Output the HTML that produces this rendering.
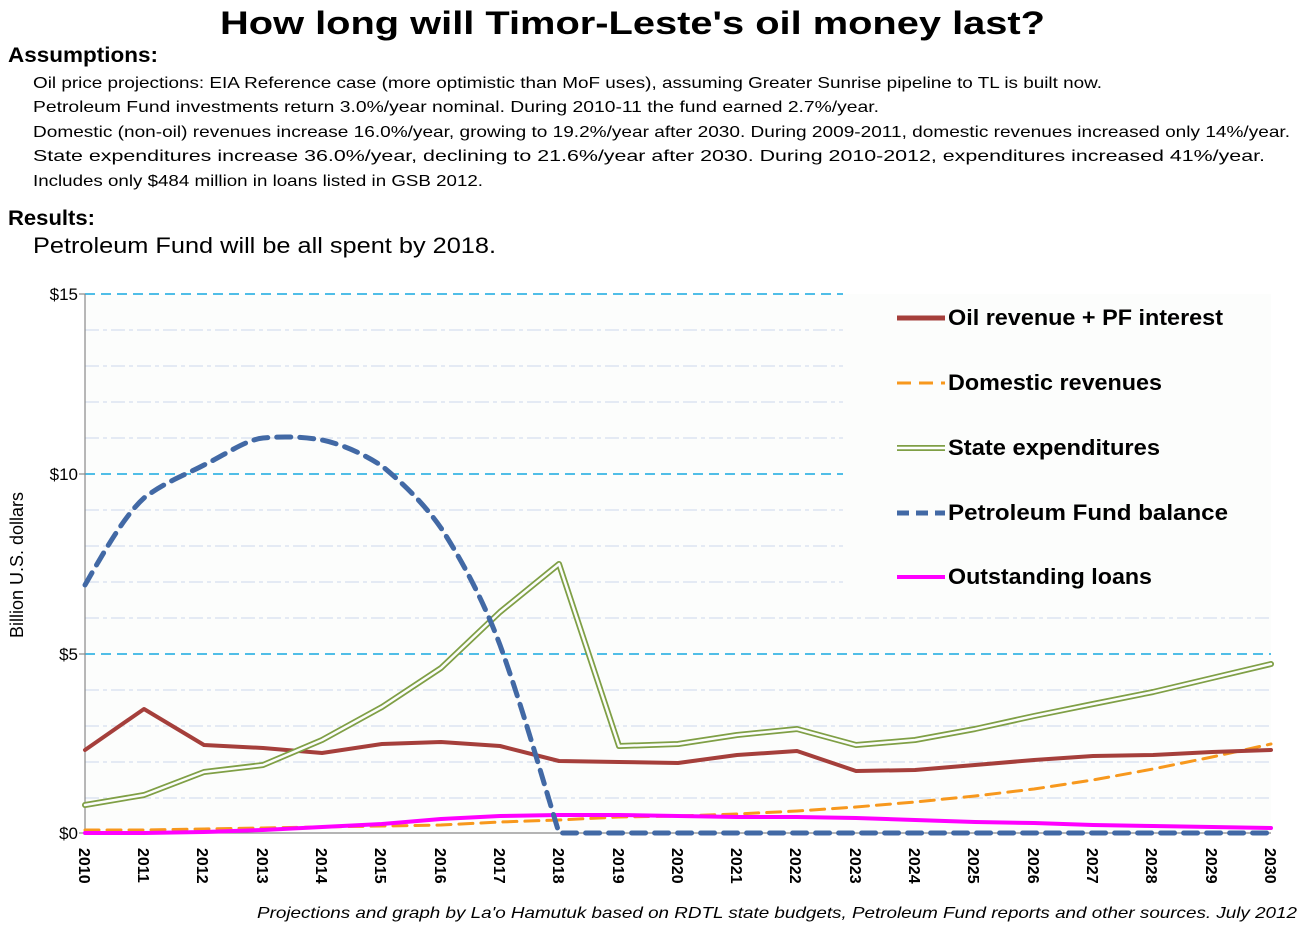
<!DOCTYPE html>
<html><head><meta charset="utf-8"><style>body{margin:0;background:#fff}svg{display:block}</style></head>
<body>
<svg width="1306" height="930" xmlns="http://www.w3.org/2000/svg" font-family="Liberation Sans, sans-serif">
<rect width="1306" height="930" fill="#fff"/>
<rect x="85" y="294" width="1186" height="539" fill="#fcfdfc"/>
<text x="220" y="34" font-size="32" font-weight="bold" textLength="825" lengthAdjust="spacingAndGlyphs">How long will Timor-Leste's oil money last?</text>
<text x="8" y="62" font-size="21" font-weight="bold" textLength="150" lengthAdjust="spacingAndGlyphs">Assumptions:</text>
<g font-size="16">
<text x="33" y="88" textLength="1069" lengthAdjust="spacingAndGlyphs">Oil price projections: EIA Reference case (more optimistic than MoF uses), assuming Greater Sunrise pipeline to TL is built now.</text>
<text x="33" y="112" textLength="846" lengthAdjust="spacingAndGlyphs">Petroleum Fund investments return 3.0%/year nominal.  During 2010-11 the fund earned 2.7%/year.</text>
<text x="33" y="137" textLength="1257" lengthAdjust="spacingAndGlyphs">Domestic (non-oil) revenues increase 16.0%/year, growing to 19.2%/year after 2030.  During 2009-2011, domestic revenues increased only 14%/year.</text>
<text x="33" y="161" textLength="1232" lengthAdjust="spacingAndGlyphs">State expenditures increase 36.0%/year, declining to 21.6%/year after 2030. During 2010-2012, expenditures increased 41%/year.</text>
<text x="33" y="186" textLength="450" lengthAdjust="spacingAndGlyphs">Includes only $484 million in loans listed in GSB 2012.</text>
</g>
<text x="8" y="225" font-size="21" font-weight="bold" textLength="87" lengthAdjust="spacingAndGlyphs">Results:</text>
<text x="33" y="253" font-size="22" textLength="463" lengthAdjust="spacingAndGlyphs">Petroleum Fund will be all spent by 2018.</text>
<g stroke="#dce4f2" stroke-width="1.5" stroke-dasharray="14,4,4,4">
<line x1="85" x2="843" y1="330" y2="330"/><line x1="85" x2="843" y1="366" y2="366"/><line x1="85" x2="843" y1="402" y2="402"/><line x1="85" x2="843" y1="438" y2="438"/>
<line x1="85" x2="843" y1="510" y2="510"/><line x1="85" x2="843" y1="546" y2="546"/><line x1="85" x2="843" y1="582" y2="582"/><line x1="85" x2="1271" y1="618" y2="618"/>
<line x1="85" x2="1271" y1="690" y2="690"/><line x1="85" x2="1271" y1="726" y2="726"/><line x1="85" x2="1271" y1="762" y2="762"/><line x1="85" x2="1271" y1="798" y2="798"/>
</g>
<g stroke="#16a9e0" stroke-width="1.5" stroke-dasharray="10,6">
<line x1="85" x2="843" y1="294" y2="294"/><line x1="85" x2="843" y1="474" y2="474"/><line x1="85" x2="1271" y1="654" y2="654"/>
</g>
<g stroke="#888" stroke-width="1.2">
<line x1="85" y1="294" x2="85" y2="833"/><line x1="85" y1="833" x2="1271" y2="833"/>
<line x1="79" y1="294" x2="85" y2="294"/><line x1="79" y1="474" x2="85" y2="474"/><line x1="79" y1="654" x2="85" y2="654"/><line x1="79" y1="833" x2="85" y2="833"/>
</g>
<g font-size="17" text-anchor="end">
<text x="78" y="300">$15</text><text x="78" y="480">$10</text><text x="78" y="660">$5</text><text x="78" y="839">$0</text>
</g>
<text transform="translate(23,565) rotate(-90)" font-size="18" text-anchor="middle">Billion U.S. dollars</text>
<g font-size="16" font-weight="bold">
<text transform="translate(79,848) rotate(90)">2010</text><text transform="translate(138,848) rotate(90)">2011</text><text transform="translate(197,848) rotate(90)">2012</text><text transform="translate(257,848) rotate(90)">2013</text><text transform="translate(316,848) rotate(90)">2014</text><text transform="translate(375,848) rotate(90)">2015</text><text transform="translate(435,848) rotate(90)">2016</text><text transform="translate(494,848) rotate(90)">2017</text><text transform="translate(553,848) rotate(90)">2018</text><text transform="translate(613,848) rotate(90)">2019</text><text transform="translate(672,848) rotate(90)">2020</text><text transform="translate(731,848) rotate(90)">2021</text><text transform="translate(790,848) rotate(90)">2022</text><text transform="translate(850,848) rotate(90)">2023</text><text transform="translate(909,848) rotate(90)">2024</text><text transform="translate(968,848) rotate(90)">2025</text><text transform="translate(1028,848) rotate(90)">2026</text><text transform="translate(1087,848) rotate(90)">2027</text><text transform="translate(1146,848) rotate(90)">2028</text><text transform="translate(1206,848) rotate(90)">2029</text><text transform="translate(1265,848) rotate(90)">2030</text>
</g>
<g fill="none" stroke-linejoin="round" stroke-linecap="round">
<polyline stroke="#f7981d" stroke-width="3" stroke-dasharray="14,8" points="85,830 144,830 204,829 263,828 322,827 382,826 441,825 500,822 559,820 619,817 678,816 737,814 797,811 856,807 915,802 975,796 1034,789 1093,780 1153,769 1212,757 1271,744"/>
<polyline stroke="#ff00ff" stroke-width="4" points="85,833 144,833 204,832 263,830 322,827 382,824 441,819 500,816 559,815 619,815 678,816 737,817 797,817 856,818 915,820 975,822 1034,823 1093,825 1153,826 1212,827 1271,828"/>
<polyline stroke="#a53f3b" stroke-width="4" points="85,750 144,709 204,745 263,748 322,753 382,744 441,742 500,746 559,761 619,762 678,763 737,755 797,751 856,771 915,770 975,765 1034,760 1093,756 1153,755 1212,752 1271,750"/>
<polyline stroke="#7f9f45" stroke-width="6" points="85,805 144,795 204,772 263,765 322,740 382,707 441,668 500,612 559,564 619,746 678,744 737,735 797,729 856,745 915,740 975,729 1034,716 1093,704 1153,692 1212,678 1271,664"/>
<polyline stroke="#fcfdfc" stroke-width="2.5" points="85,805 144,795 204,772 263,765 322,740 382,707 441,668 500,612 559,564 619,746 678,744 737,735 797,729 856,745 915,740 975,729 1034,716 1093,704 1153,692 1212,678 1271,664"/>
<path stroke="#4269a5" stroke-width="5" stroke-dasharray="14,9" d="M85,585 C105,550 125,515 144,498 C165,482 185,475 204,465 C225,455 245,440 263,438 C285,436 305,437 322,440 C345,445 365,455 382,466 C405,485 425,505 441,528 C465,565 485,605 500,645 C520,700 540,770 559,833 L1271,833"/>
</g>
<g font-size="22" font-weight="bold">
<line x1="897" y1="318" x2="945" y2="318" stroke="#a53f3b" stroke-width="5"/>
<text x="948" y="325" textLength="275" lengthAdjust="spacingAndGlyphs">Oil revenue + PF interest</text>
<line x1="897" y1="383" x2="945" y2="383" stroke="#f7981d" stroke-width="3" stroke-dasharray="14,8"/>
<text x="948" y="390" textLength="214" lengthAdjust="spacingAndGlyphs">Domestic revenues</text>
<line x1="897" y1="448" x2="945" y2="448" stroke="#7f9f45" stroke-width="6"/>
<line x1="897" y1="448" x2="945" y2="448" stroke="#fff" stroke-width="2.5"/>
<text x="948" y="455" textLength="212" lengthAdjust="spacingAndGlyphs">State expenditures</text>
<line x1="897" y1="513" x2="945" y2="513" stroke="#4269a5" stroke-width="5" stroke-dasharray="12,7"/>
<text x="948" y="520" textLength="280" lengthAdjust="spacingAndGlyphs">Petroleum Fund  balance</text>
<line x1="897" y1="577" x2="945" y2="577" stroke="#ff00ff" stroke-width="4"/>
<text x="948" y="584" textLength="204" lengthAdjust="spacingAndGlyphs">Outstanding loans</text>
</g>
<text x="257" y="918" font-size="16" font-style="italic" textLength="1040" lengthAdjust="spacingAndGlyphs">Projections and graph by La'o Hamutuk based on RDTL state budgets, Petroleum Fund reports and other sources.   July 2012</text>
</svg>
</body></html>
